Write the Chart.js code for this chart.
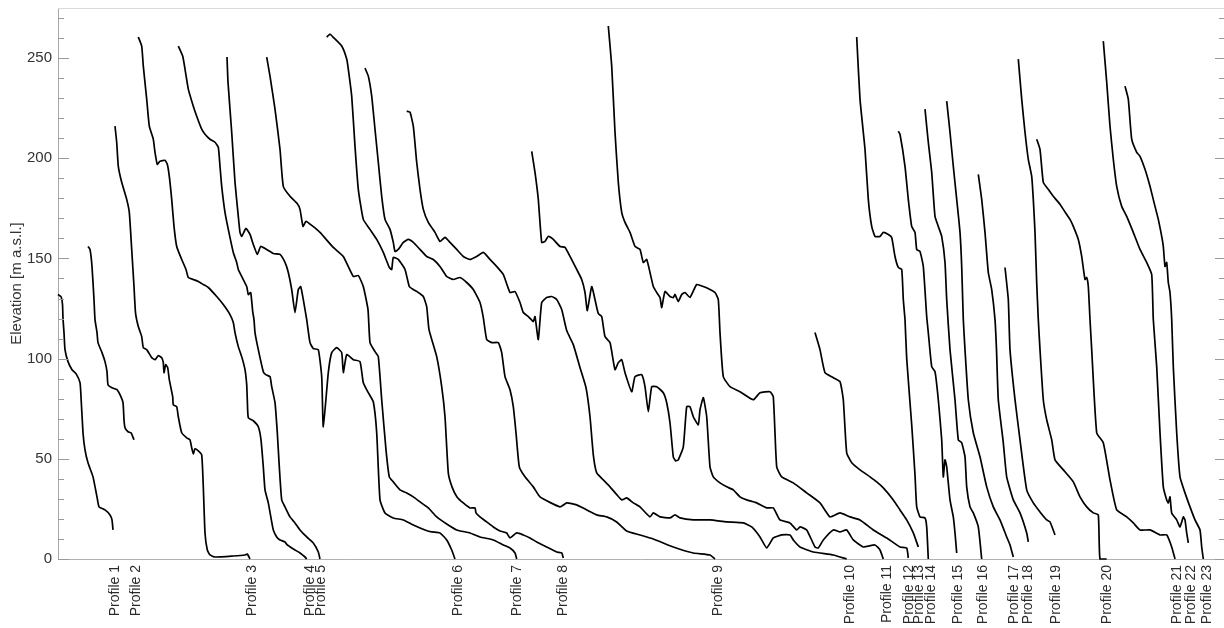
<!DOCTYPE html>
<html><head><meta charset="utf-8">
<script src="https://cdn.jsdelivr.net/npm/chart.js@4.4.0/dist/chart.umd.min.js"></script>
<style>html,body{margin:0;padding:0;background:#fff;}canvas{display:block;}</style>
</head><body>
<canvas id="c" width="1224" height="628"></canvas>
<script>
// Tick labels and their positions along the distance axis
const profileLabels = ['Profile 1','Profile 2','Profile 3','Profile 4','Profile 5','Profile 6','Profile 7','Profile 8','Profile 9','Profile 10','Profile 11','Profile 12','Profile 13','Profile 14','Profile 15','Profile 16','Profile 17','Profile 18','Profile 19','Profile 20','Profile 21','Profile 22','Profile 23'];
const labelPositions = [57,78,194,252,263,400,459,505,660,792,829,851,861,873,900,925,956,970,998,1049,1119,1133,1149];
const yTicks = [0,50,100,150,200,250];
const yMinorTicks = [0,10,20,30,40,50,60,70,80,90,100,110,120,130,140,150,160,170,180,190,200,210,220,230,240,250,260,270];

// Profiles: [distance, elevation m a.s.l.]
const profile1 = [[0,132],[3,131],[4.5,127],[5,120],[6,113],[7,104.5],[10,98.5],[14,94.5],[18,92.5],[22,88],[23,81],[25,63],[27,54.5],[30,48],[35,41],[39,31],[41,26],[47,24.5],[52,22],[54,19.5],[55,14.5]];
const profile2 = [[30,156],[32,154.5],[34,146],[36,129.5],[37,119.5],[39,113],[40,108],[44,103],[47,98.5],[49,93.5],[50,87],[54,85.5],[59,84.5],[62,82],[65,78],[66,69.5],[67,65.5],[70,63.5],[73,63],[76,59.5]];
const profile3 = [[57,216],[58.7,208],[60.3,196],[63.7,188],[68.7,179.5],[71.3,173],[73.7,154.5],[76,136],[77.5,123],[80.3,116],[83.7,111],[85.3,105.5],[88.7,104.5],[93.7,100.5],[97,99.5],[100.3,101.5],[103.7,100.5],[105.3,98],[106,93],[107.7,97],[109.7,95.5],[111.3,89.5],[114.7,81],[115.3,77],[118.7,76],[120.3,71],[123.7,63],[128.7,60.5],[132,59.5],[133.7,55.5],[135.3,52.5],[137,55],[140.3,54],[143.7,52],[145.3,36],[147,13],[149.3,4.5],[152,2],[157,1],[175.3,1.5],[187,2],[189.3,2.5],[192,0]];
const profile4 = [[80.3,260.5],[83.7,256],[85.3,246],[88.7,229.5],[91.3,216],[95.3,209.5],[97,203],[99.3,197],[102,198.5],[107,199],[109.3,197],[111.3,191],[113.7,179.5],[116,166],[118.7,156],[123.7,149.5],[128,144.5],[130.3,140.5],[135.3,139.5],[140.3,138.5],[145.3,137],[150.3,135.5],[158.7,131],[165.3,127],[172,122],[175.3,118],[177,113],[180.3,106],[183.7,101],[187,94.5],[188.7,87],[189.3,79.5],[190.3,70.5],[195.3,69],[200.3,66],[203,59.5],[205.3,46],[207,34.5],[210.3,28],[213.7,18.5],[215.3,14.5],[218.7,11],[222,9.5],[227,8.5],[229.3,7],[233.7,5.5],[237,4.5],[242,3],[247,1],[248.7,0]];
const profile5 = [[120.3,256],[124.7,251],[127,244.5],[130.3,234.5],[135.3,226],[138.7,221],[143.7,214.5],[147,212],[152,209.5],[157,208],[160.3,205.5],[162,196],[163.7,186],[167,173],[170.3,164.5],[175.3,153],[178.7,148],[180.3,144.5],[183.7,141],[188.7,136],[190.3,132],[192.7,133],[194.7,123.5],[196,119.5],[197,113],[200.3,104.5],[205.3,93.5],[207.7,92],[212,91],[213.7,86],[217,78],[219.3,63],[221.3,46],[223.7,29.5],[227,26],[232,21],[237,18],[242,14.5],[248.7,11],[255.3,8],[260.3,3.5],[262,0]];
const profile6 = [[169,250.5],[170,238],[173.7,213],[177,188],[180.3,171],[182,163],[183.7,161],[188,165],[192,162],[195.3,157],[199.3,152],[202.7,156],[208.7,154.5],[215.3,152.5],[222,152],[227,148],[230.3,143],[233.7,134.5],[237,123],[240.3,134.5],[242.7,136],[245.3,129.5],[248.7,119.5],[252,108],[255.3,105],[260.3,104.5],[263.7,91],[265.3,66],[270.3,93],[273.7,103],[278.7,105.5],[283.7,103],[285.3,93],[288.7,102],[295.3,99.5],[302,98.5],[305.3,88],[310.3,83],[315.3,78.5],[318.7,63],[322,29.5],[327,23],[335.3,20.5],[345.3,19.5],[355.3,17],[367,14.5],[373.7,13.5],[382,13],[388.7,9.5],[393.7,4.5],[397,0]];
const profile7 = [[208.7,250.5],[212,241],[217,224.5],[222,204.5],[225.3,186],[232,181],[239,177.5],[242,174.5],[245,166],[248,168.5],[255,166],[262,163],[275.3,155.5],[285.3,151],[295.3,141],[300.3,141.5],[305.3,136],[310,124.5],[312,108],[317,103.5],[320.3,101],[323.7,79.5],[328,54.5],[331.3,41],[335.3,38.5],[342,34.5],[348.7,33],[355.3,31],[362,28.5],[370.3,25.5],[378.7,21],[388.7,17.5],[398.7,14.5],[412,13],[422,11],[435.3,9.5],[445.3,7],[452,5.5],[457,3],[458.7,0]];
const profile8 = [[268.7,260.5],[272,262],[275,260.5],[283.7,256],[288.7,249.5],[290.3,244.5],[293.7,231],[297,206],[300.3,184.5],[305.3,169.5],[312,164.5],[318.7,159.5],[325.3,153],[331.3,145.5],[333.7,144.5],[335.3,150.5],[340.3,149.5],[347,144.5],[351.3,136],[355.3,134.5],[360.3,133],[365.3,131],[368.7,126],[371,114.5],[378.7,101],[383.7,86],[387,71],[390.3,43],[394,36],[399,31],[405.3,28],[412,25.5],[417,25.5],[418,23],[422,21],[428.7,18.5],[435.3,16],[442,14],[448.7,13],[452,10.5],[458.7,13],[465.3,12],[472,10.5],[478.7,8.5],[488.7,6],[498.7,3.5],[503.7,3],[505.3,0.5]];
const profile9 = [[307,245],[310.3,241],[313.7,231],[317,214.5],[320.3,198],[323.7,181],[327,169.5],[332,164.5],[335.3,158],[337,153.5],[340.3,154.5],[345.3,158],[350.3,159.5],[355.3,158],[362,154.5],[368.7,151],[375.3,149.5],[382,146],[388.7,141],[395.3,139.5],[402,140.5],[408.7,138],[415.3,134.5],[422,128],[425.3,120.5],[428.7,109.5],[433.7,108],[440.3,108],[443.7,103],[447,91],[452,84.5],[455.3,76],[458,63],[461.3,46],[467,41],[475.3,36],[482,31],[502,26],[508.7,28],[518.7,27],[528.7,24.5],[538.7,22],[548.7,21],[558.7,18.5],[568.7,14],[582,12],[595.3,10],[615.3,6],[635.3,3],[652,2],[657,0]];
const profile10 = [[348.7,223.5],[352,223],[355.3,216],[358.7,198],[362,184.5],[365.3,174.5],[370.3,168],[377,163],[382,158.5],[387,160.5],[392,158],[398.7,154.5],[405.3,151],[412,149.5],[418.7,151],[425.3,153],[432,149.5],[438.7,146],[445.3,142],[452,133],[457,133.5],[462,128],[465.3,123],[470.3,121],[475.3,118.5],[477,121],[480.3,109.5],[483.7,128],[488.7,130.5],[493.7,131],[498.7,129.5],[503.7,124.5],[508.7,114],[515.3,107],[522,95.5],[528,85.5],[532,71],[535.3,52],[538.7,43],[545.3,39.5],[552,36],[559,32],[563.7,29.5],[568.7,30.5],[575.3,28],[582,26],[592,21],[595.3,23],[602,21],[612,20.5],[617,22],[622,20.5],[635.3,19.5],[652,19.5],[668.7,18.5],[685.3,18],[693.7,16],[702,11],[708.7,5.5],[715.3,10.5],[723.7,12],[732,12],[735.3,9.5],[742,6],[755.3,3.5],[775.3,2],[788.7,0]];
const profile11 = [[473.7,203.5],[477,193],[480.3,179.5],[483.7,158],[487,158.5],[490.3,161],[495.3,159.5],[502,156],[507,155.5],[512,151],[518.7,144.5],[523.7,139.5],[527,133],[529.3,124],[533.7,136],[537,129.5],[540.3,122.5],[543.7,121],[547,111],[552,108],[557,94.5],[560.3,98],[563.7,99.5],[567,93],[573.7,83.5],[577,91],[583.7,92],[587,86],[590.3,73.5],[593.7,86],[598.7,86],[605.3,83],[608.7,78],[612,68],[615.3,51],[617.5,49],[620.3,49.5],[625.3,56],[628.7,76],[632,76],[635.3,71],[640.3,67],[642,74.5],[645.3,80.5],[648.7,71],[652,46],[655.3,41],[662,38],[668.7,36],[675.3,34.5],[682,31],[688.7,29.5],[698.7,28],[708.7,25.5],[715.3,25.5],[722,19.5],[732,18],[738.7,14.5],[742,16],[748.7,14.5],[757,6],[760.3,5.5],[765.3,9.5],[775.3,14.5],[782,13.5],[788.7,14.5],[795.3,9.5],[805.3,6],[817,7],[822,4.5],[825.3,0]];
const profile12 = [[550.3,266],[553.7,246],[557,213],[560.3,188],[563.7,173],[567,168],[572,163],[577,156],[582,154.5],[585.3,148],[588.7,149.5],[592,143],[595.3,136],[598.7,133],[602,130.5],[603.7,125.5],[607,133.5],[612,131],[615.3,130.5],[617,132],[620.3,128.5],[623.7,132],[627,133],[632,130.5],[638.7,137],[645.3,136],[652,134.5],[657,133],[660.3,129.5],[662,113],[665.3,91],[672,86],[682,83.5],[695.3,79.5],[702,83],[712,83.5],[715.3,81],[718.7,46],[723.7,41],[735.3,38],[748.7,33],[762,28],[772,21],[782,23],[792,21],[802,19.5],[815.3,14.5],[828.7,10.5],[842,6],[848.7,5.5],[850.3,0.5]];
const profile13 = [[757,113],[762,104.5],[767,93],[775.3,90.5],[782,88.5],[785.3,79.5],[788.7,53],[793.7,48],[802,44.5],[812,41],[818.7,38.5],[825.3,35.5],[835.3,29.5],[842,24.5],[848.7,19.5],[855.3,13],[860.3,6]];
const profile14 = [[798.7,260.5],[802,229.5],[807,204.5],[810.3,179.5],[813.7,166],[817,161],[822,161],[825.3,163],[830.3,162],[833.7,160.5],[837,151],[840.3,145.5],[843.7,144.5],[845.3,129.5],[847,119.5],[848.7,100],[853.7,67],[857,42],[858.7,26],[862,21],[867,20.5],[868.7,16],[870.3,0]];
const profile15 = [[840.3,213.5],[842,212],[847,196],[850.3,179.5],[853.7,166],[857,163],[858.7,154.5],[862,153.5],[865.3,146],[868.7,121],[870.3,113],[873.7,96],[877,93.5],[880.3,79.5],[883.7,59.5],[885.3,41],[887,49.5],[888.7,46],[892,29.5],[895.3,21],[897,13],[898.7,3]];
const profile16 = [[867,224.5],[870.3,208],[873.7,193],[877,171],[880.3,166],[883.7,161],[887,148],[888.7,129.5],[892,104.5],[897,79.5],[900.3,59.5],[903.7,58],[907,51],[908.7,36],[912,26],[915.3,23],[920.3,16],[923.7,0]];
const profile17 = [[888.7,228.5],[892,213],[895.3,196],[898.7,179.5],[902,163],[903.7,146],[905.3,119.5],[907,104.5],[910.3,79.5],[915.3,63],[922,51],[928.7,36],[935.3,26],[942,19.5],[948.7,11],[952,7],[955.3,1]];
const profile18 = [[920.3,192],[923.7,179.5],[927,163],[930.3,143],[933.7,134.5],[937,119.5],[938.5,104.5],[940.3,79.5],[945.3,58],[948.7,41],[955.3,29.5],[962,23],[968.7,13],[970.3,8.5]];
const profile19 = [[947,145.5],[950.3,129.5],[952,104.5],[957,79.5],[962,59.5],[968.7,34.5],[975.3,28],[982,23.5],[988.7,19.5],[992,18.5],[997,12]];
const profile20 = [[960.3,249.5],[963.7,229.5],[967,213],[970.3,199.5],[973.7,191],[975.3,179.5],[977,163],[978.7,138],[980.3,119.5],[982,104.5],[985.3,79.5],[988.7,69.5],[993.7,59.5],[997,49.5],[1005.3,44.5],[1015.3,38.5],[1022,31],[1028.7,26],[1035.3,23],[1040.3,22],[1042,0],[1048.7,0]];
const profile21 = [[978.7,209.5],[982,204.5],[985.3,188],[990.3,184.5],[995.3,181],[1002,177],[1005.3,174.5],[1012,169.5],[1015.3,166],[1020.3,159.5],[1023.7,151],[1027,139.5],[1028.7,140.5],[1030.3,136],[1032,119.5],[1033.7,104.5],[1038.7,63],[1045.3,58],[1052,39.5],[1058.7,24.5],[1068.7,21],[1075.3,18],[1082,14.5],[1092,14.5],[1102,12],[1108.7,12],[1113.7,6],[1117,0]];
const profile22 = [[1045.3,258.5],[1048.7,238],[1052,216],[1055.3,199.5],[1058.7,186],[1063.7,176],[1068.7,171],[1075.3,163],[1082,154.5],[1088.7,148],[1093.7,142],[1095.3,119.5],[1098.7,96],[1102,63],[1105.3,36],[1108.7,29.5],[1110.3,28],[1112,31],[1113.7,23],[1118.7,19.5],[1122,16],[1125.3,21],[1127,19.5],[1128.7,13],[1130.3,8]];
const profile23 = [[1067,236],[1070.3,229.5],[1073.7,209.5],[1078.7,203],[1082,201],[1087,194.5],[1092,186],[1097,176],[1100.3,169.5],[1103.7,161],[1105.3,156],[1107,146],[1108.7,148],[1110.3,138],[1112,133],[1113.7,119.5],[1115.3,96],[1118.7,63],[1122,41],[1127,33],[1132,26],[1137,19.5],[1142,14.5],[1143.7,6],[1145.3,0]];

const profiles = [profile1,profile2,profile3,profile4,profile5,profile6,profile7,profile8,profile9,profile10,profile11,profile12,profile13,profile14,profile15,profile16,profile17,profile18,profile19,profile20,profile21,profile22,profile23];

const FONT = "'Liberation Sans', Arial, Helvetica, sans-serif";

const edgeTicks = {
  id: 'edgeTicks',
  afterDraw(chart) {
    const ctx = chart.ctx;
    const y = chart.scales.y;
    const {left, right, top} = chart.chartArea;
    ctx.save();
    ctx.strokeStyle = '#dadada';
    ctx.lineWidth = 1;
    ctx.beginPath();
    ctx.moveTo(left, top + 0.5);
    ctx.lineTo(right, top + 0.5);
    ctx.stroke();
    ctx.strokeStyle = '#9a9a9a';
    ctx.beginPath();
    yMinorTicks.forEach(v => {
      const py = Math.round(y.getPixelForValue(v)) + 0.5;
      const major = yTicks.includes(v);
      ctx.moveTo(left, py); ctx.lineTo(left + (major ? 11 : 6), py);
      ctx.moveTo(right, py); ctx.lineTo(right - (major ? 9 : 5), py);
    });
    ctx.stroke();
    ctx.restore();
  }
};

new Chart(document.getElementById('c'), {
  type: 'line',
  data: {
    datasets: profiles.map((p, i) => ({
      label: profileLabels[i],
      data: p,
      borderColor: '#000',
      borderWidth: 1.7,
      pointRadius: 0,
      fill: false,
      tension: 0.15,
      borderJoinStyle: 'round',
      clip: 3
    }))
  },
  options: {
    responsive: false,
    animation: false,
    devicePixelRatio: 1,
    layout: { padding: { left: 0, right: 0, top: 8, bottom: 0 } },
    plugins: { legend: { display: false }, tooltip: { enabled: false } },
    scales: {
      x: {
        type: 'linear',
        position: 'bottom',
        min: 0,
        max: 1166,
        grid: { display: false, drawTicks: false },
        border: { display: true, color: '#b0b0b0', width: 1 },
        afterBuildTicks: s => { s.ticks = labelPositions.map(v => ({ value: v })); },
        afterFit: s => { s.height = 69; s.paddingLeft = 0; s.paddingRight = 0; },
        ticks: {
          autoSkip: false,
          minRotation: 90,
          maxRotation: 90,
          padding: 6,
          color: '#2b2b2b',
          font: { family: FONT, size: 14 },
          callback: (v, i) => profileLabels[i]
        }
      },
      y: {
        type: 'linear',
        min: 0,
        max: 275,
        grid: { display: false, drawTicks: false },
        border: { display: true, color: '#a8a8a8', width: 1 },
        afterBuildTicks: s => { s.ticks = yTicks.map(v => ({ value: v })); },
        afterFit: s => { s.width = 58; s.paddingTop = 0; s.paddingBottom = 0; },
        ticks: { padding: 6, color: '#333', font: { family: FONT, size: 15 } },
        title: {
          display: true,
          text: 'Elevation [m a.s.l.]',
          color: '#333',
          font: { family: FONT, size: 15 },
          padding: { top: 8, bottom: 0 }
        }
      }
    }
  },
  plugins: [edgeTicks]
});
</script>
</body></html>
